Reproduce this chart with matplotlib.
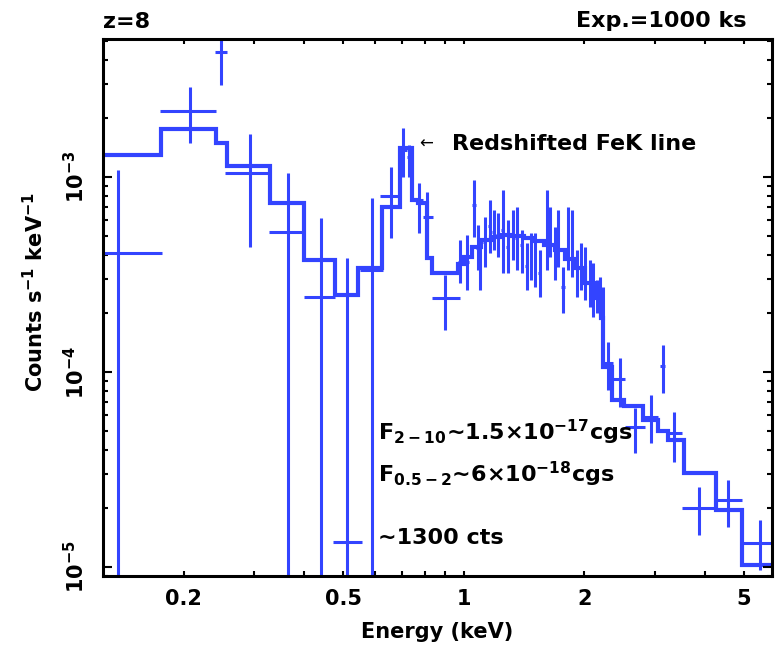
"""
z=8 obscured AGN simulated spectrum (1000 ks).
Data crosses + folded model as a step line, written to out.png.
"""
import numpy as np
import matplotlib
matplotlib.use("Agg")
import matplotlib.pyplot as plt
from matplotlib.ticker import FixedLocator, FixedFormatter, LogLocator, NullFormatter

plt.rcParams['font.family'] = ['DejaVu Sans']
plt.rcParams['font.weight'] = 'bold'
plt.rcParams['mathtext.default'] = 'regular'

BLUE = '#3344ff'

# binned data: centre, bin edges (keV), rate and error bounds (counts/s/keV)
energy = [0.137, 0.207, 0.248, 0.292, 0.365, 0.439, 0.510, 0.589, 0.657, 0.704,
          0.729, 0.772, 0.808, 0.896,
          0.977, 1.017, 1.059, 1.084, 1.096, 1.129, 1.161, 1.189, 1.216, 1.252,
          1.288, 1.326, 1.357, 1.396, 1.437, 1.471, 1.505, 1.549, 1.613, 1.641,
          1.689, 1.718, 1.768, 1.820, 1.862, 1.917, 1.961, 2.007, 2.065, 2.101,
          2.151, 2.188, 2.226,
          2.291, 2.455, 2.676, 2.934, 3.144, 3.350, 3.868, 4.571, 5.495]
e_lo = [0.099, 0.174, 0.239, 0.253, 0.326, 0.400, 0.471, 0.550, 0.617, 0.692,
        0.720, 0.750, 0.790, 0.832,
        0.966, 1.005, 1.047, 1.076, 1.090, 1.119, 1.151, 1.180, 1.206, 1.241,
        1.277, 1.315, 1.346, 1.385, 1.426, 1.460, 1.494, 1.537, 1.601, 1.629,
        1.676, 1.706, 1.750, 1.807, 1.849, 1.903, 1.947, 1.993, 2.051, 2.091,
        2.141, 2.178, 2.216,
        2.226, 2.358, 2.526, 2.802, 3.100, 3.236, 3.508, 4.241, 4.955]
e_hi = [0.176, 0.241, 0.256, 0.324, 0.398, 0.476, 0.556, 0.627, 0.692, 0.720,
        0.741, 0.790, 0.837, 0.977,
        0.988, 1.030, 1.072, 1.092, 1.104, 1.139, 1.172, 1.198, 1.226, 1.262,
        1.299, 1.337, 1.368, 1.408, 1.448, 1.482, 1.516, 1.561, 1.625, 1.653,
        1.701, 1.730, 1.786, 1.833, 1.875, 1.931, 1.975, 2.021, 2.080, 2.111,
        2.161, 2.198, 2.236,
        2.358, 2.526, 2.834, 3.055, 3.190, 3.508, 4.241, 4.955, 5.990]
rate = [4.07e-4, 2.18e-3, 4.37e-3, 1.05e-3, 5.22e-4, 2.43e-4, 1.34e-5, 3.33e-4, 8.0e-4, 1.37e-3,
        1.27e-3, 7.62e-4, 6.23e-4, 2.40e-4,
        3.66e-4, 3.66e-4, 7.18e-4, 4.33e-4, 3.54e-4, 4.65e-4, 5.61e-4, 5.22e-4, 5.05e-4, 5.35e-4,
        4.38e-4, 5.05e-4, 4.87e-4, 4.48e-4, 3.50e-4, 3.94e-4, 3.75e-4, 3.22e-4, 5.35e-4, 4.75e-4,
        4.07e-4, 4.75e-4, 2.73e-4, 4.87e-4, 4.48e-4, 3.22e-4, 3.54e-4, 3.22e-4, 2.86e-4, 2.64e-4,
        2.48e-4, 2.43e-4, 2.21e-4,
        1.11e-4, 9.2e-5, 5.22e-5, 5.88e-5, 1.07e-4, 4.86e-5, 2.01e-5, 2.21e-5, 1.33e-5]
rate_lo = [1e-7, 1.49e-3, 2.96e-3, 4.38e-4, 1e-7, 1e-7, 1e-7, 1e-7, 4.87e-4, 1.0e-3,
           1.0e-3, 5.16e-4, 4.23e-4, 1.64e-4,
           2.86e-4, 2.64e-4, 4.93e-4, 3.33e-4, 2.64e-4, 3.45e-4, 4.07e-4, 4.23e-4, 3.89e-4, 3.22e-4,
           3.22e-4, 3.75e-4, 3.33e-4, 3.22e-4, 2.64e-4, 2.96e-4, 2.73e-4, 2.43e-4, 3.33e-4, 3.89e-4,
           2.96e-4, 3.45e-4, 2.01e-4, 3.33e-4, 3.07e-4, 2.43e-4, 2.64e-4, 2.34e-4, 2.16e-4, 1.92e-4,
           2.01e-4, 1.92e-4, 1.85e-4,
           8.09e-5, 6.62e-5, 3.85e-5, 4.32e-5, 7.80e-5, 3.45e-5, 1.46e-5, 1.60e-5, 9.66e-6]
rate_hi = [1.09e-3, 2.90e-3, 6.0e-3, 1.66e-3, 1.05e-3, 6.16e-4, 3.84e-4, 7.80e-4, 1.12e-3, 1.78e-3,
           1.46e-3, 9.31e-4, 8.38e-4, 3.14e-4,
           4.75e-4, 5.05e-4, 9.65e-4, 5.67e-4, 4.75e-4, 6.23e-4, 7.62e-4, 6.77e-4, 6.53e-4, 8.58e-4,
           6.02e-4, 6.77e-4, 7.02e-4, 5.35e-4, 4.59e-4, 5.16e-4, 5.16e-4, 4.23e-4, 8.58e-4, 7.02e-4,
           5.55e-4, 6.77e-4, 3.45e-4, 7.02e-4, 6.77e-4, 4.23e-4, 4.59e-4, 4.38e-4, 3.75e-4, 3.62e-4,
           2.96e-4, 3.07e-4, 2.73e-4,
           1.43e-4, 1.18e-4, 6.54e-5, 7.62e-5, 1.38e-4, 6.24e-5, 2.57e-5, 2.79e-5, 1.74e-5]

# folded model (step function)
model_edges = [0.12, 0.175, 0.241, 0.257, 0.329, 0.400, 0.476, 0.543, 0.624, 0.692,
               0.741, 0.767, 0.808, 0.832, 0.966, 1.0, 1.047, 1.103, 1.168, 1.237,
               1.311, 1.413, 1.496, 1.585, 1.688, 1.788, 1.894, 2.007, 2.125, 2.2,
               2.23, 2.34, 2.52, 2.80, 3.06, 3.24, 3.55, 4.27, 4.95, 6.2]
model_rate = [1.30e-3, 1.76e-3, 1.49e-3, 1.14e-3, 7.36e-4, 3.75e-4, 2.48e-4, 3.41e-4, 7.0e-4,
              1.41e-3, 7.6e-4, 7.36e-4, 3.84e-4, 3.22e-4, 3.6e-4, 3.9e-4, 4.4e-4, 4.75e-4,
              4.92e-4, 5.05e-4, 5.0e-4, 4.87e-4, 4.72e-4, 4.5e-4, 4.2e-4, 3.82e-4, 3.42e-4,
              2.85e-4, 2.4e-4, 1.9e-4, 1.06e-4, 7.2e-5, 6.7e-5, 5.7e-5, 5.0e-5, 4.5e-5,
              3.03e-5, 1.96e-5, 1.02e-5]

x_ticks = [0.2, 0.5, 1, 2, 5]
x_ticklabels = ['0.2', '0.5', '1', '2', '5']
y_ticks = [1e-5, 1e-4, 1e-3]
y_ticklabels = ['$10^{-5}$', '$10^{-4}$', '$10^{-3}$']


def main():
    fig = plt.figure(figsize=(7.81, 6.48), dpi=100)
    ax = fig.add_axes([0.1319, 0.1111, 0.8566, 0.8287])
    ax.set_xscale('log')
    ax.set_yscale('log')

    e = np.array(energy)
    r = np.array(rate)
    xerr = [e - np.array(e_lo), np.array(e_hi) - e]
    yerr = [r - np.array(rate_lo), np.array(rate_hi) - r]
    ax.errorbar(e, r, xerr=xerr, yerr=yerr, fmt='none', ecolor=BLUE,
                elinewidth=2.2, capsize=0)
    ax.stairs(model_rate, model_edges, color=BLUE, lw=3, baseline=None)

    ax.set_xlim(0.1256, 5.89)
    ax.set_ylim(9.0e-6, 5.1e-3)

    ax.xaxis.set_major_locator(FixedLocator(x_ticks))
    ax.xaxis.set_major_formatter(FixedFormatter(x_ticklabels))
    ax.xaxis.set_minor_locator(LogLocator(base=10, subs=np.arange(2, 10)))
    ax.xaxis.set_minor_formatter(NullFormatter())
    ax.set_yticks(y_ticks, labels=y_ticklabels, rotation=90, va='center')
    ax.yaxis.set_minor_locator(LogLocator(base=10, subs=np.arange(2, 10)))
    ax.yaxis.set_minor_formatter(NullFormatter())

    ax.tick_params(which='both', direction='in', top=True, right=True, width=1.5,
                   labelsize=15)
    ax.tick_params(axis='y', which='major', length=6.5, pad=11)
    ax.tick_params(axis='x', which='major', length=3.5, pad=9)
    ax.tick_params(which='minor', length=3.5)
    for t in ax.xaxis.get_major_ticks():
        if t.get_loc() == 1:
            t.tick1line.set_markersize(6.5)
            t.tick2line.set_markersize(6.5)
    for s in ax.spines.values():
        s.set_linewidth(2.2)

    fig.text(35 / 781, 1 - 292 / 648, 'Counts s$^{-1}$ keV$^{-1}$', rotation=90,
             ha='center', va='center', fontsize=15)
    fig.text(437 / 781, 1 - 632 / 648, 'Energy (keV)', ha='center', va='center',
             fontsize=15)
    fig.text(103 / 781, 1 - 22 / 648, 'z=8', ha='left', va='center', fontsize=16)
    fig.text(747 / 781, 1 - 21 / 648, 'Exp.=1000 ks', ha='right', va='center',
             fontsize=16)
    fig.text(426 / 781, 1 - 144 / 648, '\u2190', ha='center', va='center',
             fontsize=12, fontweight='normal')
    fig.text(452 / 781, 1 - 144 / 648, 'Redshifted FeK line', ha='left', va='center',
             fontsize=16)
    fig.text(378 / 781, 1 - 440 / 648, 'F$_{2-10}$\u223c1.5\u00d710$^{-17}$cgs',
             ha='left', va='baseline', fontsize=16)
    fig.text(378 / 781, 1 - 482 / 648, 'F$_{0.5-2}$\u223c6\u00d710$^{-18}$cgs',
             ha='left', va='baseline', fontsize=16)
    fig.text(378 / 781, 1 - 544 / 648, '\u223c1300 cts', ha='left', va='baseline',
             fontsize=16)

    fig.savefig('out.png', dpi=100)


if __name__ == "__main__":
    main()
